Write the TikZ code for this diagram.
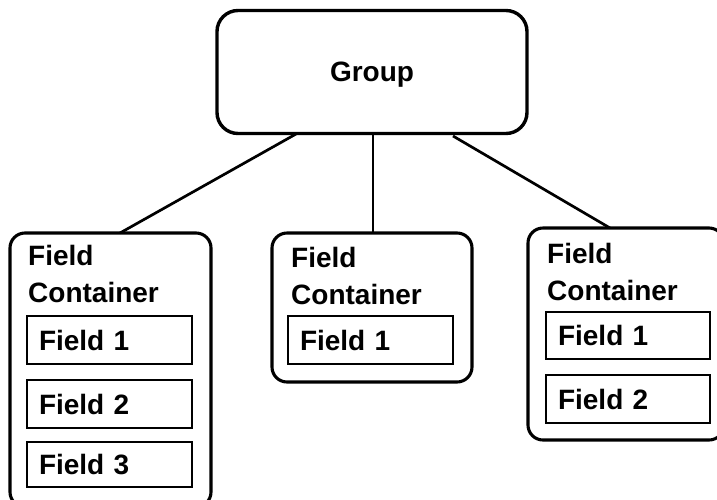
\documentclass[tikz,border=0pt]{standalone}
\usepackage{fontspec}
\setmainfont{Liberation Sans}
\begin{document}
\begin{tikzpicture}[x=1pt,y=-1pt,
  groupbox/.style={draw, line width=3.4pt, rounded corners=21pt, inner sep=0pt, text depth=0pt, font=\fontsize{28}{36}\selectfont\bfseries},
  container/.style={draw, line width=3.1pt, rounded corners=15pt, inner sep=0pt},
  title/.style={anchor=north west, inner sep=0pt, align=left, font=\fontsize{28}{37}\selectfont\bfseries},
  fieldbox/.style={draw, line width=1.6pt, inner xsep=12pt, inner ysep=0pt, minimum height=47pt, align=left, font=\fontsize{28}{36}\selectfont\bfseries},
  link/.style={line width=2.7pt}]
\useasboundingbox (0,0) rectangle (717,499);
\clip (0,0) rectangle (717,499);
\fill[white] (0,0) rectangle (717,499);
% group
\node[groupbox, minimum width=310pt, minimum height=123pt] (group) at (372,72) {Group};
% containers
\node[container, minimum width=201pt, minimum height=274pt] (c1) at (110.5,370) {};
\node[container, minimum width=200pt, minimum height=149pt] (c2) at (372,307.5) {};
\node[container, minimum width=196pt, minimum height=212pt] (c3) at (626,334) {};
% titles
\node[title] (t1) at (28,245) {Field\\Container};
\node[title] (t2) at (291,247) {Field\\Container};
\node[title] (t3) at (547,243) {Field\\Container};
% fields
\node[fieldbox, text width=141pt, minimum height=48pt] (f11) at (109.5,340) {Field 1};
\node[fieldbox, text width=141pt, minimum height=48pt] (f12) at (109.5,404) {Field 2};
\node[fieldbox, text width=141pt, minimum height=45pt] (f13) at (109.5,464.5) {Field 3};
\node[fieldbox, text width=141pt, minimum height=48pt] (f21) at (370.5,340) {Field 1};
\node[fieldbox, text width=140pt, minimum height=47pt] (f31) at (628,335.5) {Field 1};
\node[fieldbox, text width=140pt, minimum height=48pt] (f32) at (628,399) {Field 2};
% connectors
\coordinate (g1) at (296,134);
\coordinate (g2) at (373,134);
\coordinate (g3) at (453,136);
\coordinate (e1) at (120,233);
\coordinate (e2) at (373,233);
\coordinate (e3) at (610,228);
\draw[link] (g1) -- (e1);
\draw[link] (g2) -- (e2);
\draw[link] (g3) -- (e3);
\end{tikzpicture}
\end{document}
